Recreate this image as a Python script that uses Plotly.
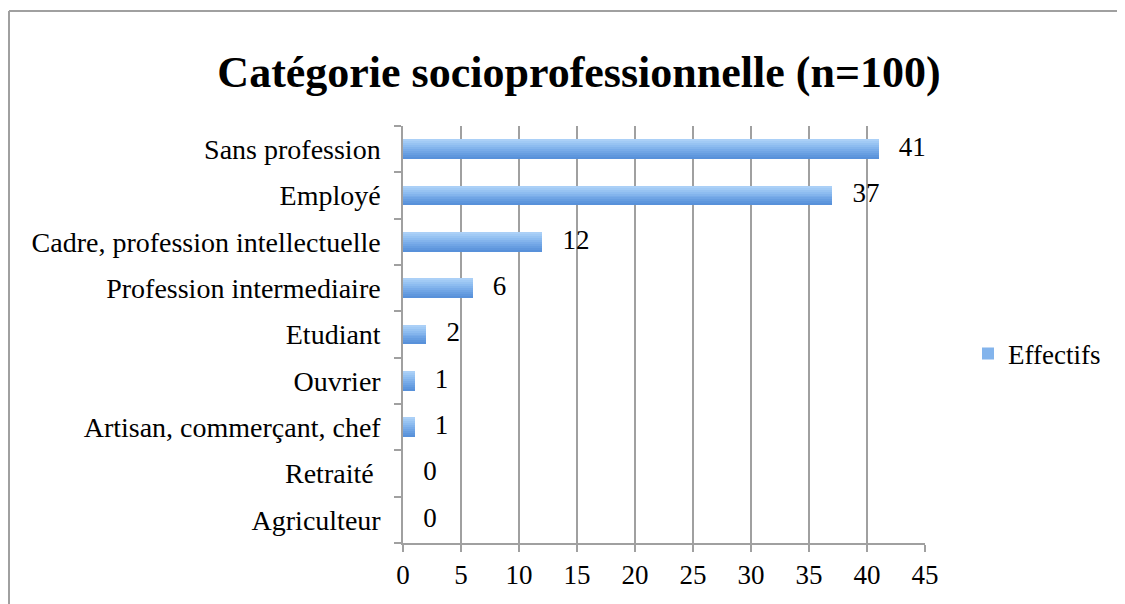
import plotly.graph_objects as go

categories = ["Agriculteur", "Retraité ", "Artisan, commerçant, chef", "Ouvrier",
              "Etudiant", "Profession intermediaire", "Cadre, profession intellectuelle",
              "Employé", "Sans profession"]
values = [0, 0, 1, 1, 2, 6, 12, 37, 41]
series_name = "Effectifs"
title_text = "Catégorie socioprofessionnelle (n=100)"

FONT = "Liberation Serif"
SH = 8  # page body margin offset
W, H = 1125, 604
L, T = 403 - SH, 126 - SH
R, B = W - 925 + SH, H - 543 + SH
pw, ph = W - L - R, H - T - B

fig = go.Figure()

# gradient bars as stacked stripes (bottom dark -> top light)
bar_w = 0.43
stripe_colors = ["#5891DA", "#5F97DD", "#679EE1", "#70A5E5", "#79ACE9",
                 "#83B4EC", "#8DBCF0", "#97C3F2", "#A1CAF5", "#ABD0F7"]
n = len(stripe_colors)
sw = bar_w / n
for i, c in enumerate(stripe_colors):
    fig.add_trace(go.Bar(
        y=categories, x=values, orientation="h",
        offset=-bar_w / 2 + i * sw, width=sw * 1.02,
        marker=dict(color=c, line=dict(width=0)),
        name=series_name, showlegend=(i == 5), hoverinfo="skip",
    ))

fig.add_trace(go.Scatter(
    y=categories, x=values, mode="text",
    text=["   " + str(v) for v in values], textposition="middle right",
    textfont=dict(family=FONT, size=27, color="#000000"),
    showlegend=False, hoverinfo="skip", cliponaxis=False,
))

fig.update_layout(
    width=W, height=H,
    margin=dict(l=L, r=R, t=T, b=B, pad=0),
    paper_bgcolor="white", plot_bgcolor="white",
    barmode="overlay", bargap=0,
    title=dict(text="<b>" + title_text + "</b>", x=(579 - SH) / W, xanchor="center",
               y=1 - (72 - SH) / H, yanchor="middle",
               font=dict(family=FONT, size=44, color="#000000")),
    font=dict(family=FONT, size=27, color="#000000"),
    legend=dict(x=(968 - SH - L) / pw, y=1 - (354 - SH - T) / ph, xanchor="left", yanchor="middle",
                font=dict(family=FONT, size=27, color="#000000"),
                bgcolor="rgba(0,0,0,0)", itemwidth=30),
    xaxis=dict(range=[0, 45], dtick=5, tick0=0, showgrid=True, gridcolor="#A0A0A0",
               gridwidth=1.5, zeroline=False, showline=True, linecolor="#A0A0A0",
               linewidth=1.5, ticks="outside", ticklen=7, tickcolor="#A0A0A0",
               tickwidth=1.5, tickfont=dict(family=FONT, size=27)),
    yaxis=dict(type="category", categoryorder="array", categoryarray=categories,
               showgrid=False, showline=True, linecolor="#A0A0A0", linewidth=1.5,
               ticks="outside", tickson="boundaries", ticklen=7, tickcolor="#A0A0A0",
               tickwidth=1.5, tickfont=dict(family=FONT, size=28), ticklabelstandoff=15,
               range=[-0.5, len(categories) - 0.5]),
    shapes=[
        dict(type="line", xref="paper", yref="paper",
             x0=(1 - L) / pw, x1=(W + 5 - L) / pw,
             y0=1 + (T - (11 - SH)) / ph, y1=1 + (T - (11 - SH)) / ph,
             line=dict(color="#A0A0A0", width=2)),
        dict(type="line", xref="paper", yref="paper",
             x0=(1 - L) / pw, x1=(1 - L) / pw,
             y0=1 + (T - (11 - SH)) / ph, y1=-0.3,
             line=dict(color="#A0A0A0", width=2)),
    ],
)

fig.write_html("out.html")
